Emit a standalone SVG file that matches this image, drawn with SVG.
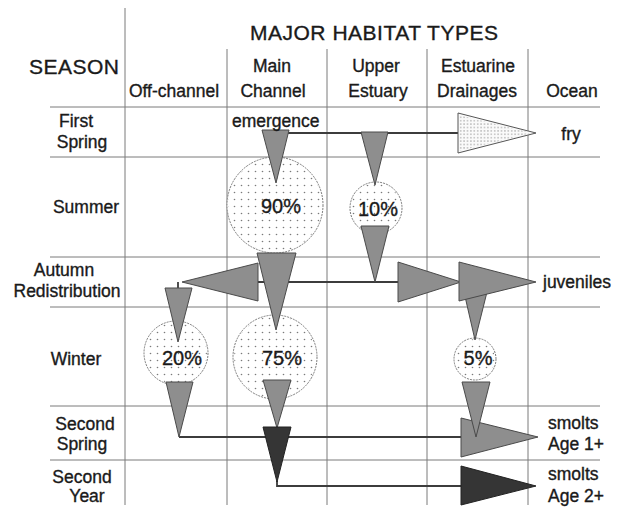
<svg xmlns="http://www.w3.org/2000/svg" width="627" height="508" viewBox="0 0 627 508">
<defs>
<pattern id="dots" width="7" height="7" patternUnits="userSpaceOnUse">
<circle cx="3.5" cy="3.5" r="0.8" fill="#7a7a7a"/>
</pattern>
<pattern id="fine" width="3.4" height="3.4" patternUnits="userSpaceOnUse">
<circle cx="1.7" cy="1.7" r="0.65" fill="#808080"/>
</pattern>
</defs>
<style>
text{font-family:"Liberation Sans",Arial,sans-serif;fill:#1a1a1a;stroke:#1a1a1a;stroke-width:0.35}
.grid{stroke:#7a7a7a;stroke-width:1;fill:none}
.conn{stroke:#3c3c3c;stroke-width:1.8;fill:none}
.circ{fill:#fff;stroke:#7a7a7a;stroke-width:1;stroke-dasharray:2 1}
.dot{fill:url(#dots);stroke:none}
.tri{fill:#8e8e8e;stroke:#4a4a4a;stroke-width:1;stroke-linejoin:round}
.dark{fill:#353535;stroke:#222;stroke-width:1;stroke-linejoin:round}
.fry{fill:#fafafa;stroke:#555;stroke-width:1}
.h1{font-size:21px}
.h2{font-size:17.5px}
.pct{font-size:20px;text-anchor:middle}
.m{text-anchor:middle}
</style>
<rect width="627" height="508" fill="#fff"/>
<g id="grid" class="grid">
<line x1="125" y1="8" x2="125" y2="505"/>
<line x1="227" y1="49" x2="227" y2="505"/>
<line x1="327" y1="49" x2="327" y2="505"/>
<line x1="427" y1="49" x2="427" y2="505"/>
<line x1="528" y1="49" x2="528" y2="505"/>
<line x1="50" y1="107" x2="600" y2="107"/>
<line x1="50" y1="157" x2="600" y2="157"/>
<line x1="50" y1="257" x2="600" y2="257"/>
<line x1="50" y1="307" x2="600" y2="307"/>
<line x1="50" y1="406" x2="600" y2="406"/>
<line x1="50" y1="460" x2="600" y2="460"/>
</g>
<g id="headers">
<text class="h1" x="250" y="40" textLength="248">MAJOR HABITAT TYPES</text>
<text class="h1" x="29" y="74" textLength="90">SEASON</text>
<text class="h2 m" x="174" y="97">Off-channel</text>
<text class="h2 m" x="272" y="72">Main</text>
<text class="h2 m" x="273" y="97">Channel</text>
<text class="h2 m" x="376" y="72">Upper</text>
<text class="h2 m" x="378" y="97">Estuary</text>
<text class="h2 m" x="478" y="72">Estuarine</text>
<text class="h2 m" x="477" y="97">Drainages</text>
<text class="h2 m" x="572" y="97">Ocean</text>
</g>
<g id="seasons">
<text class="h2 m" x="76" y="127">First</text>
<text class="h2 m" x="82" y="148">Spring</text>
<text class="h2 m" x="86" y="213">Summer</text>
<text class="h2 m" x="64" y="276">Autumn</text>
<text class="h2 m" x="67" y="297">Redistribution</text>
<text class="h2 m" x="76" y="365">Winter</text>
<text class="h2 m" x="85" y="430">Second</text>
<text class="h2 m" x="82" y="450">Spring</text>
<text class="h2 m" x="82" y="483">Second</text>
<text class="h2 m" x="87" y="502">Year</text>
</g>
<g id="connectors" class="conn">
<path d="M277 133 H460"/>
<path d="M258 282 H400"/>
<path d="M178 282 V290"/>
<path d="M179 437 H462"/>
<path d="M277 481 V486 H462"/>
</g>
<g id="node-90">
<circle class="circ" cx="275" cy="205" r="48"/>
<circle class="dot" cx="275" cy="205" r="47"/>
</g>
<g id="node-10">
<circle class="circ" cx="376" cy="208" r="26"/>
<circle class="dot" cx="376" cy="208" r="25"/>
</g>
<g id="node-20">
<circle class="circ" cx="176" cy="353" r="32"/>
<circle class="dot" cx="176" cy="353" r="31"/>
</g>
<g id="node-75">
<circle class="circ" cx="275" cy="357" r="42"/>
<circle class="dot" cx="275" cy="357" r="41"/>
</g>
<g id="node-5">
<circle class="circ" cx="475" cy="359" r="21"/>
<circle class="dot" cx="475" cy="359" r="20"/>
</g>
<g id="arrows">
<polygon class="tri" points="262,130 289,130 276,183"/>
<polygon class="tri" points="361,132 388,132 375,185"/>
<polygon class="fry" points="458,113 458,153 536,133"/>
<polygon fill="url(#fine)" points="459,115 459,151 532,133"/>
<polygon class="tri" points="257,253 296,253 276,330"/>
<polygon class="tri" points="361,226 389,226 375,282"/>
<polygon class="tri" points="258,263 258,301 182,282"/>
<polygon class="tri" points="165,288 192,288 178,342"/>
<polygon class="tri" points="464,292 487,292 475,340"/>
<polygon class="tri" points="398,262 398,302 461,282"/>
<polygon class="tri" points="459,262 459,301 536,282"/>
<polygon class="tri" points="166,382 193,382 179,437"/>
<polygon class="tri" points="263,380 291,380 277,428"/>
<polygon class="dark" points="263,427 291,427 277,482"/>
<polygon class="tri" points="461,418 461,457 538,437"/>
<polygon class="tri" points="462,382 490,382 476,437"/>
<polygon class="dark" points="461,466 461,505 536,486"/>
</g>
<g id="labels">
<text class="h2" x="232" y="127">emergence</text>
<text class="h2 m" x="571" y="140">fry</text>
<text class="h2" x="543" y="288">juveniles</text>
<text class="h2" x="548" y="429">smolts</text>
<text class="h2" x="548" y="450">Age 1+</text>
<text class="h2" x="548" y="480">smolts</text>
<text class="h2" x="548" y="502">Age 2+</text>
<text class="pct" x="281" y="213">90%</text>
<text class="pct" x="378" y="216">10%</text>
<text class="pct" x="182" y="365">20%</text>
<text class="pct" x="282" y="365">75%</text>
<text class="pct" x="478" y="365">5%</text>
</g>
</svg>
